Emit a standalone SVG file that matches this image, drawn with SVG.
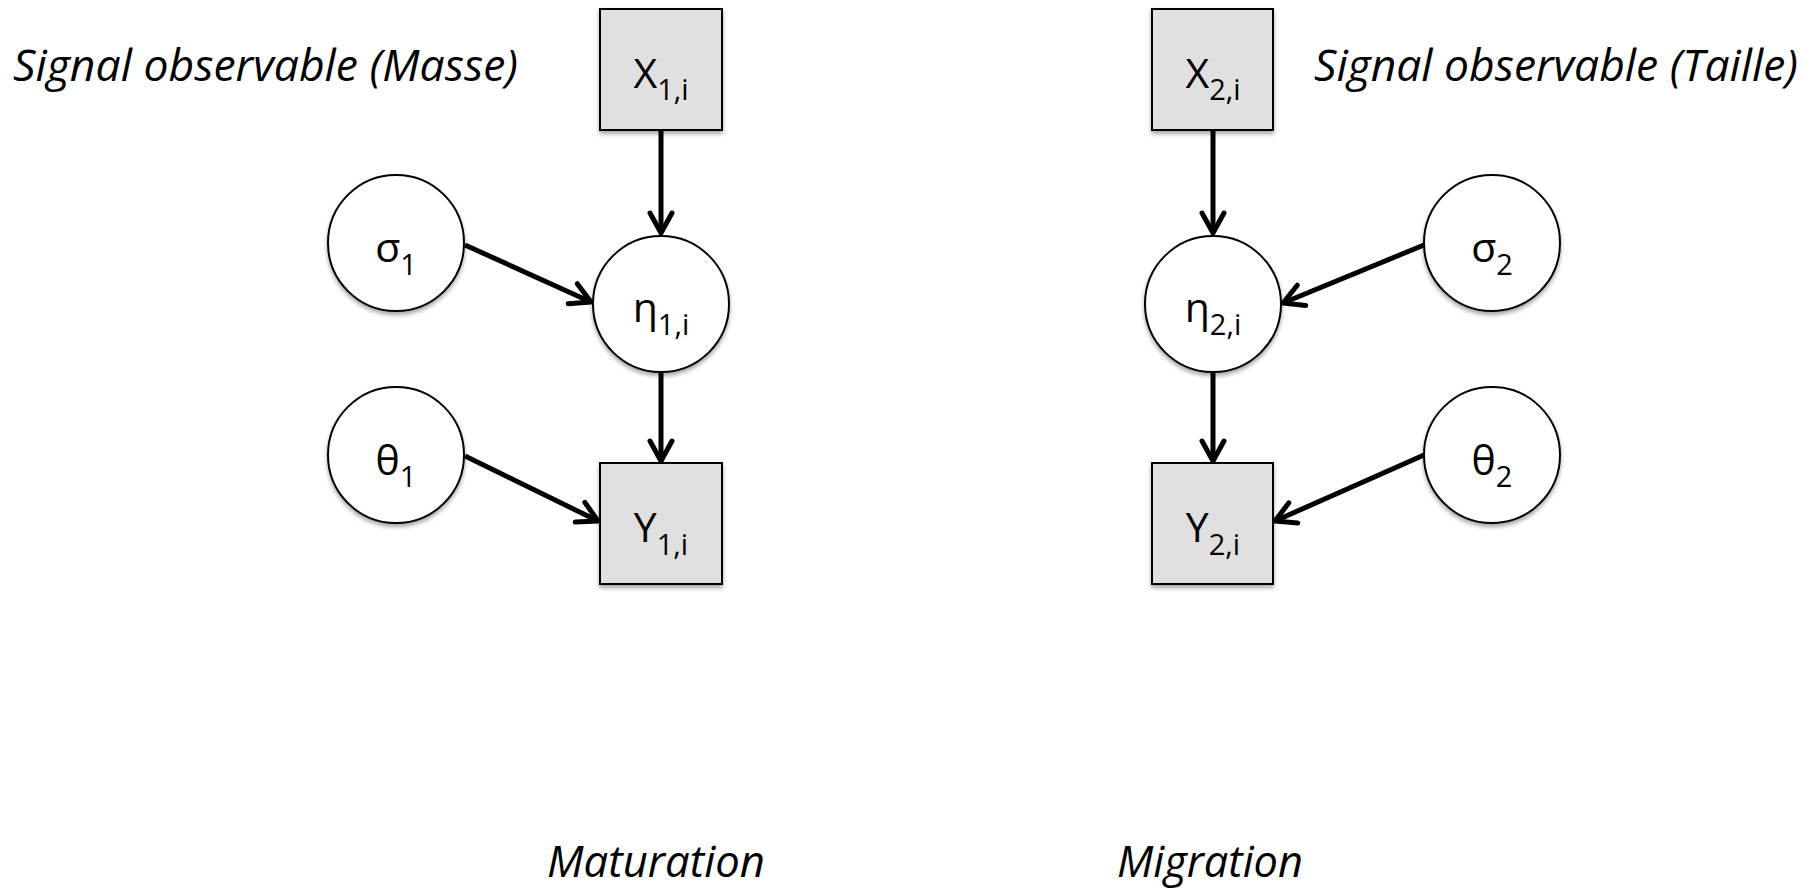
<svg xmlns="http://www.w3.org/2000/svg" width="1818" height="889" viewBox="0 0 1818 889">
<style>
.box{fill:#e0e0e0;stroke:#000;stroke-width:2;filter:url(#sh)}
.circ{fill:#fff;stroke:#000;stroke-width:2;filter:url(#sh)}
.lbl{font-family:"Open Sans","Liberation Sans",sans-serif;font-size:41px;fill:#000;text-anchor:middle}
.sub{font-size:29px}
.cap{font-family:"Open Sans","Liberation Sans",sans-serif;font-style:italic;font-size:43px;fill:#000}
.edge{stroke:#000;stroke-width:5;fill:none;marker-end:url(#ah)}
</style>
<defs>
<filter id="sh" x="-20%" y="-20%" width="140%" height="150%">
<feDropShadow dx="0" dy="3" stdDeviation="2" flood-color="#000" flood-opacity="0.35"/>
</filter>
<marker id="ah" markerUnits="userSpaceOnUse" viewBox="-26 -16 30 32" refX="0" refY="0" markerWidth="30" markerHeight="32" orient="auto">
<path d="M-20,-11 L0,0 L-20,11" fill="none" stroke="#000" stroke-width="5" stroke-linecap="round" stroke-linejoin="round"/>
</marker>
</defs>
<rect width="1818" height="889" fill="#fff"/>

<g id="connectors">
<line class="edge" x1="661" y1="131" x2="661" y2="233"/>
<line class="edge" x1="465" y1="245" x2="591" y2="302"/>
<line class="edge" x1="661" y1="373" x2="661" y2="461"/>
<line class="edge" x1="465" y1="456" x2="598" y2="521"/>
<line class="edge" x1="1213" y1="131" x2="1213" y2="233"/>
<line class="edge" x1="1424" y1="245" x2="1283" y2="303"/>
<line class="edge" x1="1213" y1="373" x2="1213" y2="461"/>
<line class="edge" x1="1424" y1="455" x2="1275" y2="521"/>
</g>

<g id="X1"><rect class="box" x="600" y="9" width="122" height="121"/><text class="lbl" x="661" y="88">X<tspan class="sub" dy="12">1,i</tspan></text></g>
<g id="eta1"><circle class="circ" cx="661" cy="304" r="68"/><text class="lbl" x="661" y="322">η<tspan class="sub" dy="13">1,i</tspan></text></g>
<g id="Y1"><rect class="box" x="600" y="463" width="122" height="121"/><text class="lbl" x="661" y="542">Y<tspan class="sub" dy="13">1,i</tspan></text></g>
<g id="sigma1"><circle class="circ" cx="396" cy="243" r="68"/><text class="lbl" x="396" y="262">σ<tspan class="sub" dy="13">1</tspan></text></g>
<g id="theta1"><circle class="circ" cx="396" cy="455" r="68"/><text class="lbl" x="396" y="475">θ<tspan class="sub" dy="12">1</tspan></text></g>

<g id="X2"><rect class="box" x="1152" y="9" width="121" height="121"/><text class="lbl" x="1213" y="88">X<tspan class="sub" dy="12">2,i</tspan></text></g>
<g id="eta2"><circle class="circ" cx="1213" cy="304" r="68"/><text class="lbl" x="1213" y="322">η<tspan class="sub" dy="13">2,i</tspan></text></g>
<g id="Y2"><rect class="box" x="1152" y="463" width="121" height="121"/><text class="lbl" x="1213" y="542">Y<tspan class="sub" dy="13">2,i</tspan></text></g>
<g id="sigma2"><circle class="circ" cx="1492" cy="243" r="68"/><text class="lbl" x="1492" y="262">σ<tspan class="sub" dy="13">2</tspan></text></g>
<g id="theta2"><circle class="circ" cx="1492" cy="455" r="68"/><text class="lbl" x="1492" y="475">θ<tspan class="sub" dy="12">2</tspan></text></g>

<g id="captions">
<text class="cap" x="13" y="81" textLength="505" lengthAdjust="spacingAndGlyphs">Signal observable (Masse)</text>
<text class="cap" x="1314" y="81" textLength="484" lengthAdjust="spacingAndGlyphs">Signal observable (Taille)</text>
<text class="cap" x="547" y="877" textLength="218" lengthAdjust="spacingAndGlyphs">Maturation</text>
<text class="cap" x="1117" y="877" textLength="186" lengthAdjust="spacingAndGlyphs">Migration</text>
</g>
</svg>
